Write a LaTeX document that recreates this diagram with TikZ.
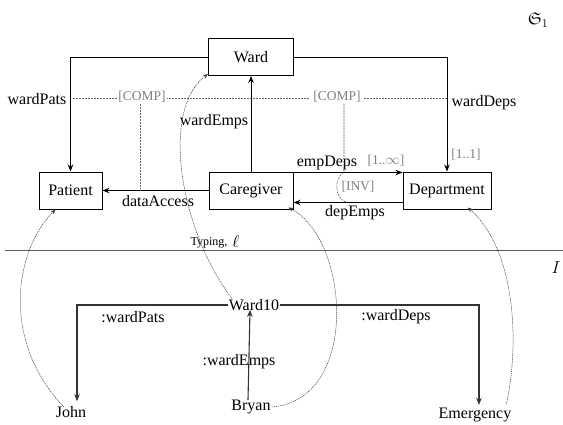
\documentclass[tikz,border=0pt]{standalone}
\usepackage{amssymb}
\usepackage{fontspec}
\setmainfont{Liberation Serif}
\usetikzlibrary{arrows.meta}
\begin{document}
\begin{tikzpicture}[x=1pt,y=-1pt,
  box/.style={draw,line width=1pt,minimum height=37pt,inner sep=0pt,font=\fontsize{16}{19}\selectfont},
  lbl/.style={inner sep=1pt,font=\fontsize{16}{19}\selectfont},
  glbl/.style={inner sep=1pt,text=black!50,font=\fontsize{13.5}{15}\selectfont},
  arr/.style={line width=0.9pt,-{Stealth[length=7pt,width=5.5pt]}},
  iarr/.style={line width=1.1pt,draw=black!80,-{Stealth[length=7pt,width=5.5pt]}},
  typ/.style={dash pattern=on 1.2pt off 0.8pt,line width=0.5pt,draw=black!75,-{Stealth[length=5pt,width=4pt]}},
  cmp/.style={dash pattern=on 2pt off 1pt,line width=0.6pt,draw=black!60}
]
\useasboundingbox (0,0) rectangle (563,424);

% schema nodes
\node[box,minimum width=85pt] (ward) at (251,57) {Ward};
\node[box,minimum width=63pt] (patient) at (70.5,190.5) {Patient};
\node[box,minimum width=84pt] (caregiver) at (251,190.5) {Caregiver};
\node[box,minimum width=88pt] (dept) at (447,190.5) {Department};

\node (S1) at (538,20) {\fontsize{17}{20}\selectfont$\mathfrak{S}_1$};

% COMP dashed lines
\coordinate (cl) at (73,98);
\coordinate (cr) at (447,98);
\draw[cmp] (cl) -- (cr);
\node[glbl,fill=white] (comp1) at (142,97) {[COMP]};
\node[glbl,fill=white,inner xsep=3pt] (comp2) at (337,97) {[COMP]};
\coordinate (c1b) at (140,188);
\draw[cmp] (comp1.south -| c1b) -- (c1b);
\coordinate (c2a) at (344,172);
\coordinate (c2b) at (346,202);
\draw[cmp] (comp2.south -| c2a) -- (c2a) .. controls (334,178) and (334,198) .. (c2b);

% schema edges
\draw[arr] (ward.west) -| (patient.north);
\draw[arr] (ward.east) -| (dept.north);
\draw[arr] (caregiver.north) -- (ward.south);
\draw[arr] (caregiver.west) -- (patient.east);
\draw[arr] ([yshift=-1pt]caregiver.north east) -- ([yshift=-1pt]dept.north west);
\draw[arr] ([yshift=7pt]dept.south west) -- ([yshift=7pt]caregiver.south east);

% schema labels
\node[lbl] (lwp) at (37,99) {wardPats};
\node[lbl] (lwd) at (484,103) {wardDeps};
\node[lbl] (lwe) at (214,122) {wardEmps};
\node[lbl] (lda) at (158,201) {dataAccess};
\node[lbl] (led) at (327,163) {empDeps};
\node[lbl] (lde) at (355,213) {depEmps};
\node[glbl] (m1) at (386,161) {[1..$\infty$]};
\node[glbl] (m2) at (466,155) {[1..1]};
\node[glbl] (inv) at (358,187) {[INV]};

% separator
\coordinate (sl) at (5,250);
\coordinate (sr) at (563,250);
\draw[line width=0.8pt,draw=black!65] (sl) -- (sr);
\node[inner sep=0pt,font=\fontsize{12}{13}\selectfont] (typing) at (209,243) {Typing,};
\node[inner sep=0.5pt,fill=white] (ell) at (236,241) {\fontsize{19}{22}\selectfont$\ell$};
\node (I) at (556,268) {\fontsize{18}{20}\selectfont$I$};

% instance nodes
\node[lbl] (ward10) at (254,305) {Ward10};
\node[lbl] (john) at (71,412) {John};
\node[lbl] (bryan) at (251,407) {Bryan};
\node[lbl] (emerg) at (475,415) {Emergency};

\node[lbl] (iwp) at (133,317) {:wardPats};
\node[lbl] (iwd) at (396,317) {:wardDeps};
\node[lbl] (iwe) at (239,362) {:wardEmps};

\coordinate (jc) at (77,305);
\coordinate (ec) at (479,305);
\draw[iarr] (ward10.west) -- (jc) -- ([yshift=4pt]john.north -| jc);
\draw[iarr] (ward10.east) -- (ec) -- ([yshift=2pt]emerg.north -| ec);
\draw[iarr] ([xshift=-3pt,yshift=-1pt]bryan.north) -- ([xshift=-4pt,yshift=2pt]ward10.south);

% typing arrows
\draw[typ] ([xshift=-7pt,yshift=-2pt]john.north) .. controls (0,340) and (15,250) .. ([xshift=-15pt]patient.south);
\draw[typ] ([xshift=4pt]ward10.north west) .. controls (180,230) and (160,110) .. ([yshift=2pt]ward.south west);
\draw[typ] (bryan.east) .. controls (360,400) and (350,240) .. ([xshift=-5pt,yshift=2pt]caregiver.south east);
\draw[typ] ([xshift=-6pt,yshift=3pt]emerg.north east) .. controls (520,340) and (515,250) .. ([xshift=21pt,yshift=2pt]dept.south);
\end{tikzpicture}
\end{document}
